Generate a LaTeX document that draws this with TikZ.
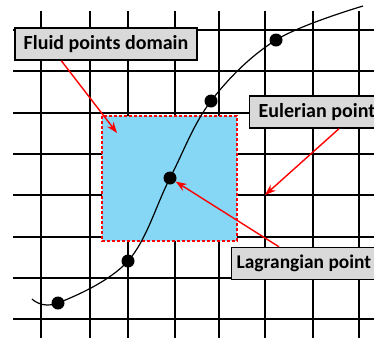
\documentclass[tikz,border=0pt]{standalone}
\usepackage{fontspec}
\setmainfont{Carlito}
\usetikzlibrary{arrows.meta,positioning}

\definecolor{fluidblue}{RGB}{133,215,245}
\definecolor{labelgray}{RGB}{217,217,217}

\begin{document}
\begin{tikzpicture}[
        x=1pt, y=-1pt,
        gridline/.style={draw, line width=1.4pt},
        fluidbox/.style={draw=red, fill=fluidblue, line width=1.4pt, dash pattern=on 3pt off 2pt},
        trace/.style={draw, line width=1.2pt},
        lagdot/.style={circle, fill=black, minimum size=13pt, inner sep=0pt},
        tag/.style={draw, fill=labelgray, line width=1.4pt, minimum height=32pt, inner xsep=8pt,
                    font=\fontsize{20}{24}\selectfont\bfseries},
        pointer/.style={draw=red, line width=1.4pt, -{Stealth[length=11pt,width=8pt]}},
    ]
    \useasboundingbox (0,0) rectangle (374,338);
    \clip (0,0) rectangle (374,338);

    % Grid
    \foreach \gx in {41,90,128,175,219,265,313,359}
        \draw[gridline] (\gx,11) -- (\gx,338);
    \foreach \gy in {30,71,113,154,195,237,278,319}
        \draw[gridline] (13,\gy) -- (374,\gy);

    % Fluid points domain
    \draw[fluidbox] (102,116) rectangle (237,241);

    % Curve through the Lagrangian points
    \draw[trace] plot[smooth, tension=0.6] coordinates {(32,299) (58,303) (128,261) (170,178) (211,101) (276,40) (363,6)};
    \node[lagdot] (p1) at (58,303) {};
    \node[lagdot] (p2) at (128,261) {};
    \node[lagdot] (p3) at (170,178) {};
    \node[lagdot] (p4) at (211,101) {};
    \node[lagdot] (p5) at (276,40) {};

    % Labels (the two on the right run past the edge)
    \node[tag, minimum width=182pt] (fluid) at (106,44) {Fluid points domain};
    \node[tag, anchor=west, inner xsep=9pt] (euler) at (249,112) {Eulerian point\hspace*{30pt}};
    \node[tag, anchor=west, inner xsep=5pt, font=\fontsize{19.4}{24}\selectfont\bfseries] (lagr) at (231,263.5) {Lagrangian point\hspace*{30pt}};

    % Pointers
    \coordinate (fin) at (117,133);
    \coordinate (eul) at (265,195);
    \draw[pointer] ([xshift=47pt]fluid.south west) -- (fin);
    \draw[pointer] ([xshift=90pt]euler.south west) -- (eul);
    \draw[pointer] ([xshift=48pt]lagr.north west) -- (p3);

\end{tikzpicture}
\end{document}
